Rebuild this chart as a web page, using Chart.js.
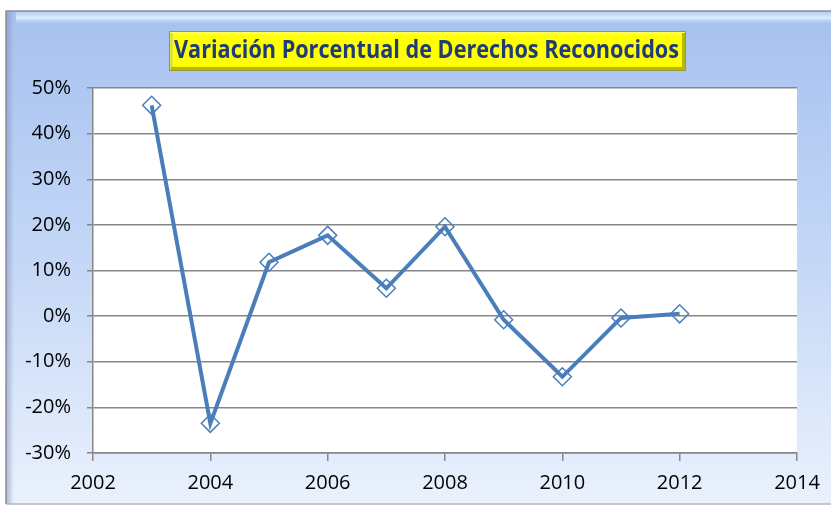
<!DOCTYPE html>
<html>
<head>
<meta charset="utf-8">
<script src="https://cdn.jsdelivr.net/npm/chart.js@4.4.0/dist/chart.umd.min.js"></script>
<style>
html,body{margin:0;padding:0;background:#fff;}
#wrap{width:831px;height:506px;position:relative;}
canvas{display:block;}
</style>
</head>
<body>
<div id="wrap"><canvas id="c" width="831" height="506"></canvas></div>
<script>
const titleText = "Variación Porcentual de Derechos Reconocidos";
const years = [2003, 2004, 2005, 2006, 2007, 2008, 2009, 2010, 2011, 2012];
const values = [46.2, -23.5, 11.8, 17.7, 6.1, 19.6, -0.8, -13.3, -0.4, 0.5];
const yTicks = [-30, -20, -10, 0, 10, 20, 30, 40, 50];
const xTicks = [2002, 2004, 2006, 2008, 2010, 2012, 2014];

const FONT = "'Open Sans', sans-serif";

const bgPlugin = {
  id: 'bg',
  beforeDraw(chart) {
    const ctx = chart.ctx;
    ctx.save();
    ctx.fillStyle = '#ffffff';
    ctx.fillRect(0, 0, 831, 506);
    // outer frame
    const fx = 6, fy = 11, fw = 830, fh = 493;
    const g = ctx.createLinearGradient(0, fy, 0, fy + fh);
    g.addColorStop(0, '#a6c1f0');
    g.addColorStop(0.5, '#c4d7f6');
    g.addColorStop(1, '#eaf1fd');
    ctx.fillStyle = g;
    ctx.fillRect(fx, fy, fw, fh);
    // left shade
    const gl = ctx.createLinearGradient(fx, 0, fx + 8, 0);
    gl.addColorStop(0, 'rgba(120,140,180,0.55)');
    gl.addColorStop(1, 'rgba(120,140,180,0)');
    ctx.fillStyle = gl;
    ctx.fillRect(fx, fy, 8, fh);
    // top bevel
    const gb = ctx.createLinearGradient(0, fy + 1, 0, fy + 14);
    gb.addColorStop(0, 'rgba(200,215,240,0.6)');
    gb.addColorStop(0.45, '#d8f2ff');
    gb.addColorStop(1, 'rgba(170,196,240,0)');
    ctx.fillStyle = gb;
    ctx.fillRect(fx + 10, fy + 1, fw, 13);
    ctx.strokeStyle = '#8a8f99';
    ctx.lineWidth = 1.5;
    ctx.beginPath();
    ctx.moveTo(fx, fy + fh);
    ctx.lineTo(fx, fy);
    ctx.lineTo(fx + fw, fy);
    ctx.stroke();
    ctx.strokeStyle = '#b0b6c2';
    ctx.beginPath();
    ctx.moveTo(fx, fy + fh);
    ctx.lineTo(fx + fw, fy + fh);
    ctx.stroke();
    // plot area white
    const a = chart.chartArea;
    ctx.fillStyle = '#ffffff';
    ctx.fillRect(a.left, a.top, a.right - a.left, a.bottom - a.top);
    // title box
    const bx = 169, by = 31, bw = 517, bh = 40;
    ctx.fillStyle = '#9a9a3c';
    ctx.fillRect(bx, by, bw, bh);
    const gy = ctx.createLinearGradient(0, by, 0, by + bh);
    gy.addColorStop(0, '#ffff80');
    gy.addColorStop(0.12, '#ffff00');
    gy.addColorStop(0.88, '#ffff00');
    gy.addColorStop(1, '#d0d000');
    ctx.fillStyle = gy;
    ctx.fillRect(bx + 1, by + 1, bw - 2, bh - 2);
    ctx.fillStyle = '#e0e040';
    ctx.fillRect(bx + 1, by + 2, 3, bh - 4);
    ctx.fillStyle = '#b8b800';
    ctx.fillRect(bx + bw - 4, by + 2, 3, bh - 3);
    ctx.fillRect(bx + 2, by + bh - 4, bw - 3, 3);
    // title text
    ctx.font = "bold 25px " + FONT;
    const tw = ctx.measureText(titleText).width;
    const target = 505;
    ctx.translate(bx + bw / 2 - 1, by + bh / 2);
    ctx.scale(target / tw, 1);
    ctx.textAlign = 'center';
    ctx.textBaseline = 'middle';
    ctx.fillStyle = '#1f3c78';
    ctx.fillText(titleText, 0, 0);
    ctx.restore();
  }
};

new Chart(document.getElementById('c'), {
  type: 'line',
  data: {
    datasets: [{
      data: years.map((y, i) => ({x: y, y: values[i]})),
      borderColor: '#4a7ebb',
      borderWidth: 4,
      pointStyle: 'rectRot',
      pointRadius: 9,
      pointHoverRadius: 9,
      pointBorderWidth: 1.5,
      pointBorderColor: '#4a7ebb',
      pointBackgroundColor: 'rgba(0,0,0,0)',
      tension: 0
    }]
  },
  options: {
    responsive: false,
    animation: false,
    devicePixelRatio: 1,
    layout: {padding: {left: 0, top: 88, right: 34, bottom: 0}},
    plugins: {legend: {display: false}, tooltip: {enabled: false}, title: {display: false}},
    scales: {
      x: {
        type: 'linear',
        min: 2002, max: 2014,
        afterBuildTicks(s) { s.ticks = xTicks.map(v => ({value: v})); },
        afterFit(s) { s.height = 53; },
        grid: {drawOnChartArea: false, color: '#868686', tickLength: 8, lineWidth: 1.5},
        border: {color: '#868686', width: 1.5},
        ticks: {color: '#000', font: {family: FONT, size: 20}, padding: 10, maxRotation: 0,
          callback: v => String(v)}
      },
      y: {
        min: -30, max: 50,
        afterBuildTicks(s) { s.ticks = yTicks.map(v => ({value: v})); },
        afterFit(s) { s.width = 93; },
        grid: {color: '#868686', lineWidth: 1.5, tickLength: 6},
        border: {color: '#868686', width: 1.5},
        ticks: {color: '#000', font: {family: FONT, size: 20}, padding: 16,
          callback: v => v + '%'}
      }
    }
  },
  plugins: [bgPlugin]
});
</script>
</body>
</html>
